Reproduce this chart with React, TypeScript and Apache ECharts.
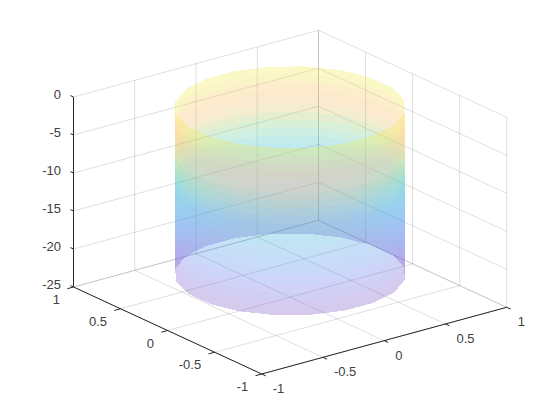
import React, { useEffect, useRef } from "react";
import * as echarts from "echarts";

const xTicks = [-1, -0.5, 0, 0.5, 1];
const yTicks = [-1, -0.5, 0, 0.5, 1];
const zTicks = [-25, -20, -15, -10, -5, 0];

// 20-sided tube of radius 0.75
const ringX = [0.7408, 0.6683, 0.5303, 0.3405, 0.1173, -0.1173, -0.3405, -0.5303, -0.6683, -0.7408, -0.7408, -0.6683, -0.5303, -0.3405, -0.1173, 0.1173, 0.3405, 0.5303, 0.6683, 0.7408];
const ringY = [0.1173, 0.3405, 0.5303, 0.6683, 0.7408, 0.7408, 0.6683, 0.5303, 0.3405, 0.1173, -0.1173, -0.3405, -0.5303, -0.6683, -0.7408, -0.7408, -0.6683, -0.5303, -0.3405, -0.1173];
const ringZ = [0, -1, -2, -3, -4, -5, -6, -7, -8, -9, -10, -11, -12, -13, -14, -15, -16, -17, -18, -19, -20, -21, -22];
const bandColors = [
  "rgb(242,232,72)", "rgb(245,220,75)", "rgb(248,198,82)", "rgb(248,186,88)", "rgb(240,186,95)",
  "rgb(218,195,98)", "rgb(172,198,105)", "rgb(130,205,125)", "rgb(92,202,158)", "rgb(65,192,185)",
  "rgb(48,182,205)", "rgb(48,175,215)", "rgb(50,165,222)", "rgb(58,155,228)", "rgb(65,145,232)",
  "rgb(72,135,235)", "rgb(80,125,238)", "rgb(88,115,235)", "rgb(98,105,228)", "rgb(106,95,218)",
  "rgb(112,86,207)", "rgb(118,80,197)",
];
const backWall = [17, 18, 19, 0, 1, 2, 3, 4, 5, 6, 7];
const frontWall = [7, 8, 9, 10, 11, 12, 13, 14, 15, 16, 17];
const walls = [backWall, frontWall];
const surfaceAlpha = 0.3;

// view of the 3-D box on the page plane
const project = (x: number, y: number, z: number): number[] => [
  290.1 + 122.5 * x - 94.1 * y,
  297.15 - 33.35 * x - 43.5 * y - 7.6 * (z + 25),
];

const FONT = "'Liberation Sans', Arial, Helvetica, sans-serif";
const INK = "#262626";

type Seg = number[];
const gridSegs: Seg[] = [];
zTicks.forEach((z) => {
  gridSegs.push([-1, 1, z, 1, 1, z]);
  gridSegs.push([1, 1, z, 1, -1, z]);
});
xTicks.forEach((x) => {
  gridSegs.push([x, 1, -25, x, 1, 0]);
  gridSegs.push([x, -1, -25, x, 1, -25]);
});
yTicks.forEach((y) => {
  gridSegs.push([1, y, -25, 1, y, 0]);
  gridSegs.push([-1, y, -25, 1, y, -25]);
});

const TX = 0.027; // x-axis ticks reach along y
const TY = 0.05; // y-axis ticks reach along x
const axisSegs: Seg[] = [
  [-1, 1, -25, -1, 1, 0],
  [-1, 1, -25, -1, -1, -25],
  [-1, -1, -25, 1, -1, -25],
];
zTicks.forEach((z) => axisSegs.push([-1, 1, z, -1, 1 + TY * 0.66, z]));
yTicks.forEach((y) => axisSegs.push([-1, y, -25, -1 - TY, y, -25]));
xTicks.forEach((x) => axisSegs.push([x, -1, -25, x, -1 - TX * 1.6, -25]));

type Lab = { text: string; pos: number[]; dx: number; dy: number; align: string };
const labels: Lab[] = [];
zTicks.forEach((z) => labels.push({ text: String(z), pos: [-1, 1, z], dx: -12.5, dy: -2.8, align: "right" }));
yTicks.forEach((y) => labels.push({ text: String(y), pos: [-1, y, -25], dx: -13.5, dy: 12.5, align: "right" }));
xTicks.forEach((x) => labels.push({ text: String(x), pos: [x, -1, -25], dx: 11, dy: 14.5, align: "left" }));

const strips: number[][] = [];
walls.forEach((_, w) => bandColors.forEach((_c, j) => strips.push([w, j])));

const segSeries = (name: string, data: Seg[], style: any, z: number) => ({
  type: "custom",
  name,
  coordinateSystem: "cartesian2d",
  silent: true,
  clip: false,
  z,
  data,
  renderItem: (_p: any, api: any) => {
    const a = api.coord(project(api.value(0), api.value(1), api.value(2)));
    const b = api.coord(project(api.value(3), api.value(4), api.value(5)));
    return {
      type: "line",
      shape: { x1: a[0], y1: a[1], x2: b[0], y2: b[1] },
      style: { fill: null, ...style },
    };
  },
});

export default function App() {
  const ref = useRef<HTMLDivElement>(null);
  useEffect(() => {
    document.body.style.margin = "0";
    const chart = echarts.init(ref.current!, undefined, { renderer: "svg" });
    chart.setOption({
      animation: false,
      grid: { left: 0, right: 0, top: 0, bottom: 0 },
      xAxis: { type: "value", min: 0, max: 560, show: false },
      yAxis: { type: "value", min: 0, max: 420, inverse: true, show: false },
      series: [
        segSeries("grid", gridSegs, { stroke: INK, opacity: 0.15, lineWidth: 1 }, 1),
        {
          type: "custom",
          name: "surface",
          coordinateSystem: "cartesian2d",
          silent: true,
          clip: false,
          z: 2,
          data: strips,
          renderItem: (_p: any, api: any) => {
            const wall = walls[api.value(0)];
            const j = api.value(1);
            const top = wall.map((i) => project(ringX[i], ringY[i], ringZ[j]));
            const bottom = wall.map((i) => project(ringX[i], ringY[i], ringZ[j + 1])).reverse();
            const pts = top.concat(bottom).map((p) => api.coord(p));
            return {
              type: "polygon",
              shape: { points: pts },
              style: { fill: bandColors[j], opacity: surfaceAlpha, stroke: null },
            };
          },
        },
        segSeries("axes", axisSegs, { stroke: INK, lineWidth: 1 }, 3),
        {
          type: "custom",
          name: "labels",
          coordinateSystem: "cartesian2d",
          silent: true,
          clip: false,
          z: 4,
          data: labels.map((_, i) => [i]),
          renderItem: (_p: any, api: any) => {
            const l = labels[api.value(0)];
            const c = api.coord(project(l.pos[0], l.pos[1], l.pos[2]));
            return {
              type: "text",
              x: c[0] + l.dx,
              y: c[1] + l.dy,
              style: {
                text: l.text,
                fill: "#404040",
                fontSize: 13,
                fontFamily: FONT,
                align: l.align,
                verticalAlign: "middle",
              },
            };
          },
        },
      ],
    });
    return () => chart.dispose();
  }, []);
  return (
    <>
      <style>{`svg path:not([fill="none"]){shape-rendering:crispEdges}`}</style>
      <div ref={ref} style={{ width: 560, height: 420, background: "#fff" }} />
    </>
  );
}
